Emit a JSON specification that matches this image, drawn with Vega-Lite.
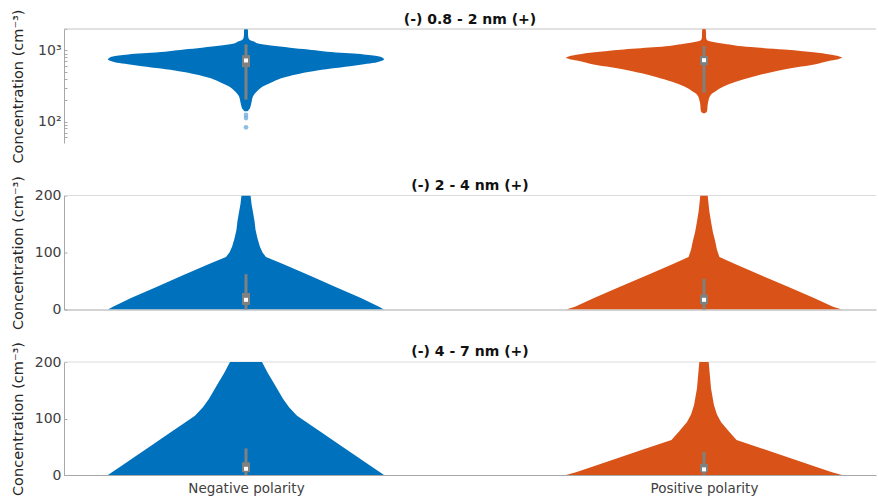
{
  "$schema": "https://vega.github.io/schema/vega-lite/v6.json",
  "padding": {"left": 9, "top": 8, "right": 0, "bottom": 0},
  "background": "white",
  "bounds": "flush",
  "spacing": 52.5,
  "config": {
    "font": "DejaVu Sans",
    "view": {"stroke": null},
    "axis": {"labelFont": "DejaVu Sans", "labelFontSize": 14, "labelColor": "#404040", "titleFont": "DejaVu Sans", "titleFontSize": 14.5, "titleFontWeight": "normal", "titleColor": "#262626", "domainColor": "#a8a8a8", "tickColor": "#a8a8a8", "grid": false},
    "axisY": {"minExtent": 30, "maxExtent": 30, "titlePadding": 9, "labelPadding": 6, "tickSize": -3},
    "title": {"font": "DejaVu Sans", "fontSize": 14, "fontWeight": "bold", "color": "#111111", "offset": -18, "anchor": "middle", "frame": "group"}
  },
  "datasets": {
    "violin": [
      {"panel": "A", "group": "Negative", "value": 1990, "density": 0.011},
      {"panel": "A", "group": "Negative", "value": 1900, "density": 0.0145},
      {"panel": "A", "group": "Negative", "value": 1700, "density": 0.0145},
      {"panel": "A", "group": "Negative", "value": 1500, "density": 0.018},
      {"panel": "A", "group": "Negative", "value": 1400, "density": 0.029},
      {"panel": "A", "group": "Negative", "value": 1330, "density": 0.058},
      {"panel": "A", "group": "Negative", "value": 1250, "density": 0.087},
      {"panel": "A", "group": "Negative", "value": 1170, "density": 0.181},
      {"panel": "A", "group": "Negative", "value": 1092, "density": 0.319},
      {"panel": "A", "group": "Negative", "value": 1030, "density": 0.449},
      {"panel": "A", "group": "Negative", "value": 977, "density": 0.558},
      {"panel": "A", "group": "Negative", "value": 930, "density": 0.688},
      {"panel": "A", "group": "Negative", "value": 899, "density": 0.804},
      {"panel": "A", "group": "Negative", "value": 860, "density": 0.891},
      {"panel": "A", "group": "Negative", "value": 832, "density": 0.949},
      {"panel": "A", "group": "Negative", "value": 790, "density": 0.989},
      {"panel": "A", "group": "Negative", "value": 747, "density": 1.0},
      {"panel": "A", "group": "Negative", "value": 710, "density": 0.978},
      {"panel": "A", "group": "Negative", "value": 671, "density": 0.935},
      {"panel": "A", "group": "Negative", "value": 640, "density": 0.855},
      {"panel": "A", "group": "Negative", "value": 601, "density": 0.754},
      {"panel": "A", "group": "Negative", "value": 555, "density": 0.616},
      {"panel": "A", "group": "Negative", "value": 511, "density": 0.486},
      {"panel": "A", "group": "Negative", "value": 460, "density": 0.362},
      {"panel": "A", "group": "Negative", "value": 412, "density": 0.268},
      {"panel": "A", "group": "Negative", "value": 370, "density": 0.203},
      {"panel": "A", "group": "Negative", "value": 332, "density": 0.152},
      {"panel": "A", "group": "Negative", "value": 300, "density": 0.109},
      {"panel": "A", "group": "Negative", "value": 267, "density": 0.08},
      {"panel": "A", "group": "Negative", "value": 227, "density": 0.051},
      {"panel": "A", "group": "Negative", "value": 200, "density": 0.043},
      {"panel": "A", "group": "Negative", "value": 173, "density": 0.036},
      {"panel": "A", "group": "Negative", "value": 150, "density": 0.025},
      {"panel": "A", "group": "Negative", "value": 140, "density": 0.012},

      {"panel": "A", "group": "Positive", "value": 2000, "density": 0.011},
      {"panel": "A", "group": "Positive", "value": 1800, "density": 0.0145},
      {"panel": "A", "group": "Positive", "value": 1600, "density": 0.0145},
      {"panel": "A", "group": "Positive", "value": 1430, "density": 0.018},
      {"panel": "A", "group": "Positive", "value": 1370, "density": 0.029},
      {"panel": "A", "group": "Positive", "value": 1326, "density": 0.058},
      {"panel": "A", "group": "Positive", "value": 1243, "density": 0.145},
      {"panel": "A", "group": "Positive", "value": 1113, "density": 0.341},
      {"panel": "A", "group": "Positive", "value": 1033, "density": 0.58},
      {"panel": "A", "group": "Positive", "value": 928, "density": 0.826},
      {"panel": "A", "group": "Positive", "value": 860, "density": 0.935},
      {"panel": "A", "group": "Positive", "value": 815, "density": 0.986},
      {"panel": "A", "group": "Positive", "value": 789, "density": 1.0},
      {"panel": "A", "group": "Positive", "value": 760, "density": 0.978},
      {"panel": "A", "group": "Positive", "value": 720, "density": 0.92},
      {"panel": "A", "group": "Positive", "value": 650, "density": 0.826},
      {"panel": "A", "group": "Positive", "value": 540, "density": 0.58},
      {"panel": "A", "group": "Positive", "value": 421, "density": 0.341},
      {"panel": "A", "group": "Positive", "value": 314, "density": 0.145},
      {"panel": "A", "group": "Positive", "value": 270, "density": 0.087},
      {"panel": "A", "group": "Positive", "value": 240, "density": 0.051},
      {"panel": "A", "group": "Positive", "value": 184, "density": 0.029},
      {"panel": "A", "group": "Positive", "value": 140, "density": 0.022},
      {"panel": "A", "group": "Positive", "value": 131, "density": 0.007},

      {"panel": "B", "group": "Negative", "value": 200, "density": 0.033},
      {"panel": "B", "group": "Negative", "value": 185, "density": 0.04},
      {"panel": "B", "group": "Negative", "value": 170, "density": 0.051},
      {"panel": "B", "group": "Negative", "value": 155, "density": 0.062},
      {"panel": "B", "group": "Negative", "value": 140, "density": 0.069},
      {"panel": "B", "group": "Negative", "value": 125, "density": 0.083},
      {"panel": "B", "group": "Negative", "value": 110, "density": 0.101},
      {"panel": "B", "group": "Negative", "value": 100, "density": 0.12},
      {"panel": "B", "group": "Negative", "value": 92, "density": 0.145},
      {"panel": "B", "group": "Negative", "value": 80, "density": 0.268},
      {"panel": "B", "group": "Negative", "value": 60, "density": 0.457},
      {"panel": "B", "group": "Negative", "value": 40, "density": 0.645},
      {"panel": "B", "group": "Negative", "value": 20, "density": 0.833},
      {"panel": "B", "group": "Negative", "value": 5, "density": 0.964},
      {"panel": "B", "group": "Negative", "value": 0, "density": 1.0},

      {"panel": "B", "group": "Positive", "value": 200, "density": 0.027},
      {"panel": "B", "group": "Positive", "value": 185, "density": 0.033},
      {"panel": "B", "group": "Positive", "value": 170, "density": 0.04},
      {"panel": "B", "group": "Positive", "value": 150, "density": 0.054},
      {"panel": "B", "group": "Positive", "value": 135, "density": 0.065},
      {"panel": "B", "group": "Positive", "value": 121, "density": 0.08},
      {"panel": "B", "group": "Positive", "value": 105, "density": 0.094},
      {"panel": "B", "group": "Positive", "value": 92, "density": 0.112},
      {"panel": "B", "group": "Positive", "value": 80, "density": 0.225},
      {"panel": "B", "group": "Positive", "value": 60, "density": 0.413},
      {"panel": "B", "group": "Positive", "value": 40, "density": 0.609},
      {"panel": "B", "group": "Positive", "value": 20, "density": 0.797},
      {"panel": "B", "group": "Positive", "value": 5, "density": 0.935},
      {"panel": "B", "group": "Positive", "value": 0, "density": 1.0},

      {"panel": "C", "group": "Negative", "value": 200, "density": 0.116},
      {"panel": "C", "group": "Negative", "value": 190, "density": 0.138},
      {"panel": "C", "group": "Negative", "value": 180, "density": 0.159},
      {"panel": "C", "group": "Negative", "value": 165, "density": 0.196},
      {"panel": "C", "group": "Negative", "value": 150, "density": 0.232},
      {"panel": "C", "group": "Negative", "value": 135, "density": 0.268},
      {"panel": "C", "group": "Negative", "value": 120, "density": 0.312},
      {"panel": "C", "group": "Negative", "value": 105, "density": 0.37},
      {"panel": "C", "group": "Negative", "value": 90, "density": 0.46},
      {"panel": "C", "group": "Negative", "value": 75, "density": 0.551},
      {"panel": "C", "group": "Negative", "value": 60, "density": 0.638},
      {"panel": "C", "group": "Negative", "value": 45, "density": 0.728},
      {"panel": "C", "group": "Negative", "value": 30, "density": 0.819},
      {"panel": "C", "group": "Negative", "value": 15, "density": 0.909},
      {"panel": "C", "group": "Negative", "value": 5, "density": 0.971},
      {"panel": "C", "group": "Negative", "value": 0, "density": 1.0},

      {"panel": "C", "group": "Positive", "value": 200, "density": 0.034},
      {"panel": "C", "group": "Positive", "value": 183, "density": 0.04},
      {"panel": "C", "group": "Positive", "value": 153, "density": 0.051},
      {"panel": "C", "group": "Positive", "value": 124, "density": 0.072},
      {"panel": "C", "group": "Positive", "value": 107, "density": 0.094},
      {"panel": "C", "group": "Positive", "value": 94, "density": 0.123},
      {"panel": "C", "group": "Positive", "value": 77, "density": 0.181},
      {"panel": "C", "group": "Positive", "value": 62, "density": 0.236},
      {"panel": "C", "group": "Positive", "value": 45, "density": 0.442},
      {"panel": "C", "group": "Positive", "value": 30, "density": 0.623},
      {"panel": "C", "group": "Positive", "value": 15, "density": 0.804},
      {"panel": "C", "group": "Positive", "value": 5, "density": 0.928},
      {"panel": "C", "group": "Positive", "value": 0, "density": 1.0}
    ],
    "box": [
      {"panel": "A", "group": "Negative", "lo": 204, "q1": 582, "med": 723, "q3": 859, "hi": 1215},
      {"panel": "A", "group": "Positive", "lo": 254, "q1": 621, "med": 730, "q3": 832, "hi": 1150},
      {"panel": "B", "group": "Negative", "lo": 0, "q1": 8, "med": 17, "q3": 29, "hi": 62},
      {"panel": "B", "group": "Positive", "lo": 0, "q1": 9, "med": 17, "q3": 26, "hi": 54},
      {"panel": "C", "group": "Negative", "lo": 0, "q1": 5, "med": 11, "q3": 22.5, "hi": 47},
      {"panel": "C", "group": "Positive", "lo": 0, "q1": 4.7, "med": 10, "q3": 19.5, "hi": 41}
    ],
    "outliers": [
      {"panel": "A", "group": "Negative", "value": 124},
      {"panel": "A", "group": "Negative", "value": 112},
      {"panel": "A", "group": "Negative", "value": 83}
    ]
  },
  "vconcat": [
    {
      "title": {"text": "(-) 0.8 - 2 nm (+)"},
      "width": 812, "height": 114,
      "resolve": {"scale": {"x": "independent"}, "axis": {"x": "independent"}},
      "layer": [
        {"data": {"values": [{}]}, "mark": {"type": "rule", "color": "#c4c4c4", "strokeWidth": 1}, "encoding": {"y": {"datum": 2000, "type": "quantitative"}}},
        {
          "layer": [
            {"data": {"name": "violin"}, "transform": [{"filter": "datum.panel == 'A' && datum.group == 'Negative'"}],
             "mark": {"type": "area", "orient": "horizontal", "color": "#0072BD", "interpolate": "monotone", "clip": true},
             "encoding": {
               "y": {"field": "value", "type": "quantitative", "scale": {"type": "log", "domain": [50, 2000], "nice": false},
                     "axis": {"title": "Concentration (cm⁻³)", "values": [60, 70, 80, 90, 100, 200, 300, 400, 500, 600, 700, 800, 900, 1000, 2000], "labelExpr": "datum.value == 1000 ? '10³' : (datum.value == 100 ? '10²' : '')"}},
               "x": {"field": "density", "type": "quantitative", "stack": "center", "scale": {"domain": [-0.1594, 2.7826], "nice": false, "zero": false}, "axis": null}
             }},
            {"data": {"name": "outliers"}, "transform": [{"filter": "datum.panel == 'A' && datum.group == 'Negative'"}],
             "mark": {"type": "circle", "color": "#5fa3d9", "opacity": 0.7, "size": 22},
             "encoding": {"y": {"field": "value", "type": "quantitative"}, "x": {"datum": 0.5, "type": "quantitative"}}},
            {"data": {"name": "box"}, "transform": [{"filter": "datum.panel == 'A' && datum.group == 'Negative'"}],
             "mark": {"type": "rule", "color": "#808080", "strokeWidth": 3},
             "encoding": {"x": {"datum": 0.5, "type": "quantitative"}, "y": {"field": "lo", "type": "quantitative"}, "y2": {"field": "hi"}}},
            {"data": {"name": "box"}, "transform": [{"filter": "datum.panel == 'A' && datum.group == 'Negative'"}],
             "mark": {"type": "rule", "color": "#808080", "strokeWidth": 8},
             "encoding": {"x": {"datum": 0.5, "type": "quantitative"}, "y": {"field": "q1", "type": "quantitative"}, "y2": {"field": "q3"}}},
            {"data": {"name": "box"}, "transform": [{"filter": "datum.panel == 'A' && datum.group == 'Negative'"}],
             "mark": {"type": "square", "color": "#ffffff", "opacity": 1, "size": 16},
             "encoding": {"x": {"datum": 0.5, "type": "quantitative"}, "y": {"field": "med", "type": "quantitative"}}}
          ]
        },
        {
          "layer": [
            {"data": {"name": "violin"}, "transform": [{"filter": "datum.panel == 'A' && datum.group == 'Positive'"}],
             "mark": {"type": "area", "orient": "horizontal", "color": "#D95319", "interpolate": "monotone", "clip": true},
             "encoding": {
               "y": {"field": "value", "type": "quantitative"},
               "x": {"field": "density", "type": "quantitative", "stack": "center", "scale": {"domain": [-1.8188, 1.1232], "nice": false, "zero": false}, "axis": null}
             }},
            {"data": {"name": "box"}, "transform": [{"filter": "datum.panel == 'A' && datum.group == 'Positive'"}],
             "mark": {"type": "rule", "color": "#808080", "strokeWidth": 3},
             "encoding": {"x": {"datum": 0.5, "type": "quantitative"}, "y": {"field": "lo", "type": "quantitative"}, "y2": {"field": "hi"}}},
            {"data": {"name": "box"}, "transform": [{"filter": "datum.panel == 'A' && datum.group == 'Positive'"}],
             "mark": {"type": "rule", "color": "#808080", "strokeWidth": 8},
             "encoding": {"x": {"datum": 0.5, "type": "quantitative"}, "y": {"field": "q1", "type": "quantitative"}, "y2": {"field": "q3"}}},
            {"data": {"name": "box"}, "transform": [{"filter": "datum.panel == 'A' && datum.group == 'Positive'"}],
             "mark": {"type": "square", "color": "#ffffff", "opacity": 1, "size": 16},
             "encoding": {"x": {"datum": 0.5, "type": "quantitative"}, "y": {"field": "med", "type": "quantitative"}}}
          ]
        }
      ]
    },
    {
      "title": {"text": "(-) 2 - 4 nm (+)"},
      "width": 812, "height": 114,
      "resolve": {"scale": {"x": "independent"}, "axis": {"x": "independent"}},
      "layer": [
        {"data": {"values": [{}]}, "mark": {"type": "rule", "color": "#dcdcdc", "strokeWidth": 1}, "encoding": {"y": {"datum": 200, "type": "quantitative"}}},
        {
          "layer": [
            {"data": {"name": "violin"}, "transform": [{"filter": "datum.panel == 'B' && datum.group == 'Negative'"}],
             "mark": {"type": "area", "orient": "horizontal", "color": "#0072BD", "interpolate": "linear", "clip": true},
             "encoding": {
               "y": {"field": "value", "type": "quantitative", "scale": {"domain": [0, 200], "nice": false},
                     "axis": {"title": "Concentration (cm⁻³)", "values": [0, 100, 200]}},
               "x": {"field": "density", "type": "quantitative", "stack": "center", "scale": {"domain": [-0.1594, 2.7826], "nice": false, "zero": false},
                     "axis": {"labels": false, "ticks": false, "title": null, "domain": true}}
             }},
            {"data": {"name": "box"}, "transform": [{"filter": "datum.panel == 'B' && datum.group == 'Negative'"}],
             "mark": {"type": "rule", "color": "#808080", "strokeWidth": 3},
             "encoding": {"x": {"datum": 0.5, "type": "quantitative"}, "y": {"field": "lo", "type": "quantitative"}, "y2": {"field": "hi"}}},
            {"data": {"name": "box"}, "transform": [{"filter": "datum.panel == 'B' && datum.group == 'Negative'"}],
             "mark": {"type": "rule", "color": "#808080", "strokeWidth": 8},
             "encoding": {"x": {"datum": 0.5, "type": "quantitative"}, "y": {"field": "q1", "type": "quantitative"}, "y2": {"field": "q3"}}},
            {"data": {"name": "box"}, "transform": [{"filter": "datum.panel == 'B' && datum.group == 'Negative'"}],
             "mark": {"type": "square", "color": "#ffffff", "opacity": 1, "size": 16},
             "encoding": {"x": {"datum": 0.5, "type": "quantitative"}, "y": {"field": "med", "type": "quantitative"}}}
          ]
        },
        {
          "layer": [
            {"data": {"name": "violin"}, "transform": [{"filter": "datum.panel == 'B' && datum.group == 'Positive'"}],
             "mark": {"type": "area", "orient": "horizontal", "color": "#D95319", "interpolate": "linear", "clip": true},
             "encoding": {
               "y": {"field": "value", "type": "quantitative"},
               "x": {"field": "density", "type": "quantitative", "stack": "center", "scale": {"domain": [-1.8188, 1.1232], "nice": false, "zero": false}, "axis": null}
             }},
            {"data": {"name": "box"}, "transform": [{"filter": "datum.panel == 'B' && datum.group == 'Positive'"}],
             "mark": {"type": "rule", "color": "#808080", "strokeWidth": 3},
             "encoding": {"x": {"datum": 0.5, "type": "quantitative"}, "y": {"field": "lo", "type": "quantitative"}, "y2": {"field": "hi"}}},
            {"data": {"name": "box"}, "transform": [{"filter": "datum.panel == 'B' && datum.group == 'Positive'"}],
             "mark": {"type": "rule", "color": "#808080", "strokeWidth": 8},
             "encoding": {"x": {"datum": 0.5, "type": "quantitative"}, "y": {"field": "q1", "type": "quantitative"}, "y2": {"field": "q3"}}},
            {"data": {"name": "box"}, "transform": [{"filter": "datum.panel == 'B' && datum.group == 'Positive'"}],
             "mark": {"type": "square", "color": "#ffffff", "opacity": 1, "size": 16},
             "encoding": {"x": {"datum": 0.5, "type": "quantitative"}, "y": {"field": "med", "type": "quantitative"}}}
          ]
        }
      ]
    },
    {
      "title": {"text": "(-) 4 - 7 nm (+)"},
      "width": 812, "height": 113,
      "resolve": {"scale": {"x": "independent"}, "axis": {"x": "independent"}},
      "layer": [
        {"data": {"values": [{}]}, "mark": {"type": "rule", "color": "#dcdcdc", "strokeWidth": 1}, "encoding": {"y": {"datum": 200, "type": "quantitative"}}},
        {
          "layer": [
            {"data": {"name": "violin"}, "transform": [{"filter": "datum.panel == 'C' && datum.group == 'Negative'"}],
             "mark": {"type": "area", "orient": "horizontal", "color": "#0072BD", "interpolate": "linear", "clip": true},
             "encoding": {
               "y": {"field": "value", "type": "quantitative", "scale": {"domain": [0, 200], "nice": false},
                     "axis": {"title": "Concentration (cm⁻³)", "values": [0, 100, 200]}},
               "x": {"field": "density", "type": "quantitative", "stack": "center", "scale": {"domain": [-0.1594, 2.7826], "nice": false, "zero": false},
                     "axis": {"values": [0.5, 2.1594], "labelExpr": "datum.value < 1 ? 'Negative polarity' : 'Positive polarity'", "ticks": false, "title": null, "labelPadding": 6, "labelFontSize": 13.5, "labelOverlap": false, "labelFlush": false}}
             }},
            {"data": {"name": "box"}, "transform": [{"filter": "datum.panel == 'C' && datum.group == 'Negative'"}],
             "mark": {"type": "rule", "color": "#808080", "strokeWidth": 3},
             "encoding": {"x": {"datum": 0.5, "type": "quantitative"}, "y": {"field": "lo", "type": "quantitative"}, "y2": {"field": "hi"}}},
            {"data": {"name": "box"}, "transform": [{"filter": "datum.panel == 'C' && datum.group == 'Negative'"}],
             "mark": {"type": "rule", "color": "#808080", "strokeWidth": 8},
             "encoding": {"x": {"datum": 0.5, "type": "quantitative"}, "y": {"field": "q1", "type": "quantitative"}, "y2": {"field": "q3"}}},
            {"data": {"name": "box"}, "transform": [{"filter": "datum.panel == 'C' && datum.group == 'Negative'"}],
             "mark": {"type": "square", "color": "#ffffff", "opacity": 1, "size": 16},
             "encoding": {"x": {"datum": 0.5, "type": "quantitative"}, "y": {"field": "med", "type": "quantitative"}}}
          ]
        },
        {
          "layer": [
            {"data": {"name": "violin"}, "transform": [{"filter": "datum.panel == 'C' && datum.group == 'Positive'"}],
             "mark": {"type": "area", "orient": "horizontal", "color": "#D95319", "interpolate": "linear", "clip": true},
             "encoding": {
               "y": {"field": "value", "type": "quantitative"},
               "x": {"field": "density", "type": "quantitative", "stack": "center", "scale": {"domain": [-1.8188, 1.1232], "nice": false, "zero": false}, "axis": null}
             }},
            {"data": {"name": "box"}, "transform": [{"filter": "datum.panel == 'C' && datum.group == 'Positive'"}],
             "mark": {"type": "rule", "color": "#808080", "strokeWidth": 3},
             "encoding": {"x": {"datum": 0.5, "type": "quantitative"}, "y": {"field": "lo", "type": "quantitative"}, "y2": {"field": "hi"}}},
            {"data": {"name": "box"}, "transform": [{"filter": "datum.panel == 'C' && datum.group == 'Positive'"}],
             "mark": {"type": "rule", "color": "#808080", "strokeWidth": 8},
             "encoding": {"x": {"datum": 0.5, "type": "quantitative"}, "y": {"field": "q1", "type": "quantitative"}, "y2": {"field": "q3"}}},
            {"data": {"name": "box"}, "transform": [{"filter": "datum.panel == 'C' && datum.group == 'Positive'"}],
             "mark": {"type": "square", "color": "#ffffff", "opacity": 1, "size": 16},
             "encoding": {"x": {"datum": 0.5, "type": "quantitative"}, "y": {"field": "med", "type": "quantitative"}}}
          ]
        }
      ]
    }
  ]
}
